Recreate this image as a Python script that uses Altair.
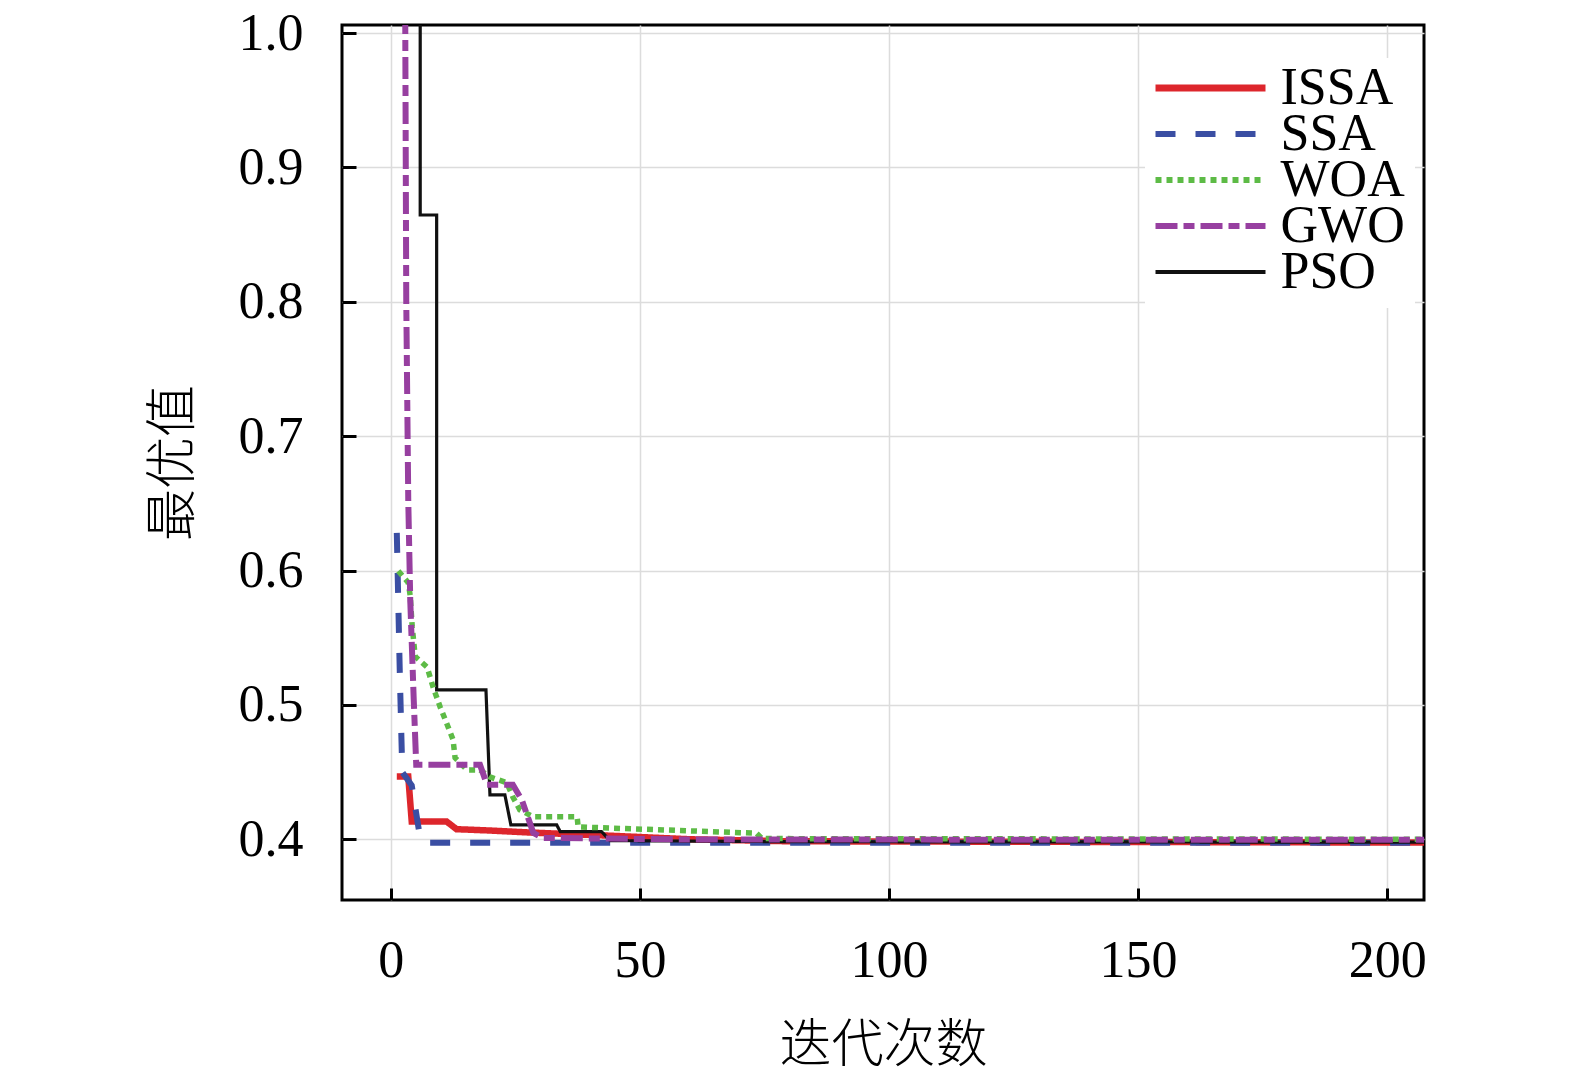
import altair as alt
import pandas as pd

series_names = ["ISSA", "SSA", "WOA", "GWO", "PSO"]
draw_order = ["ISSA", "SSA", "PSO", "WOA", "GWO"]

issa_iter = [1.2, 3.5, 4.2, 11.2, 13.2, 20, 28, 45, 60, 80, 210]
issa_val = [0.4467, 0.4467, 0.4132, 0.4132, 0.4075, 0.4065, 0.405, 0.4025, 0.400, 0.3985, 0.3975]

ssa_iter = [1.2, 1.8, 2.3, 4.2, 5.8, 7, 210]
ssa_val = [0.628, 0.524, 0.45, 0.44, 0.403, 0.3975, 0.3975]

woa_iter = [1.5, 3.5, 3.9, 4.3, 4.9, 7.3, 8.5, 9.9, 11.5, 12.5, 12.9, 15.3, 17.9,
            19.9, 23.3, 24.5, 25.9, 28.6, 37.4, 37.6, 73.4, 74.5, 210]
woa_val = [0.5997, 0.591, 0.581, 0.558, 0.536, 0.528, 0.513, 0.4985, 0.4836, 0.474,
           0.4606, 0.4516, 0.4516, 0.4464, 0.442, 0.4315, 0.4219, 0.4167, 0.4167,
           0.4092, 0.4045, 0.4005, 0.4]

gwo_iter = [1, 2.9, 3.1, 3.5, 3.9, 4.6, 5.1, 17.9, 19.3, 24.5, 26.3, 28.6, 30.5, 60, 210]
gwo_val = [1.25, 1.006, 0.8, 0.6525, 0.578, 0.504, 0.4555, 0.4555, 0.4406, 0.4406,
           0.4293, 0.4048, 0.401, 0.3998, 0.3996]

pso_iter = [1, 5.9, 5.9, 9.2, 9.2, 19.1, 19.9, 22.9, 24.1, 33.3, 34, 42.3, 44, 80, 210]
pso_val = [1.3, 1.3, 0.8646, 0.8646, 0.5112, 0.5112, 0.433, 0.433, 0.4107, 0.4107,
           0.4057, 0.4057, 0.399, 0.3982, 0.3978]

x_ticks = [0, 50, 100, 150, 200]
y_ticks = [0.4, 0.5, 0.6, 0.7, 0.8, 0.9, 1.0]

series_data = {
    "ISSA": (issa_iter, issa_val),
    "SSA": (ssa_iter, ssa_val),
    "WOA": (woa_iter, woa_val),
    "GWO": (gwo_iter, gwo_val),
    "PSO": (pso_iter, pso_val),
}

rows = []
for s in draw_order:
    its, vals = series_data[s]
    for i, (a, b) in enumerate(zip(its, vals)):
        rows.append({"series": s, "iter": a, "val": b, "idx": i})
df = pd.DataFrame(rows)

colors = ["#dd262c", "#3a4ea3", "#5dbb46", "#973fa0", "#111111"]
dashes = [[1, 0], [20, 20], [6, 5], [22, 6, 11, 6], [1, 0]]

FONT = "Liberation Serif, Times New Roman, Noto Sans CJK SC"

legend = alt.Legend(
    title=None,
    orient="none",
    legendX=803,
    legendY=33,
    fillColor="white",
    padding=10,
    symbolType="stroke",
    symbolSize=12100,
    symbolOffset=29.5,
    symbolStrokeWidth={"expr": "datum.value === 'ISSA' ? 7 : (datum.value === 'PSO' ? 4 : 6)"},
    clipHeight=40,
    rowPadding=-20,
    labelOffset=44,
    labelFont=FONT,
    labelFontSize=52,
    labelColor="black",
    labelBaseline="middle",
)

chart = alt.Chart(df).mark_line(clip=True, strokeCap="butt", strokeJoin="miter").encode(
    x=alt.X(
        "iter:Q",
        scale=alt.Scale(domain=[-9.8, 207.4], nice=False, zero=False),
        axis=alt.Axis(
            values=x_ticks, format="d", title="迭代次数",
            offset=-12, tickSize=12, tickWidth=3, tickColor="black",
            domain=False, labelPadding=35, titlePadding=34,
            grid=True, gridColor="#dcdcdc", gridWidth=1.5,
            labelFont=FONT, labelFontSize=52, labelColor="black",
            titleFont=FONT, titleFontSize=52, titleFontWeight=300, titleColor="black",
        ),
    ),
    y=alt.Y(
        "val:Q",
        scale=alt.Scale(domain=[0.3548, 1.006], nice=False, zero=False),
        axis=alt.Axis(
            values=y_ticks, format=".1f", title="最优值",
            offset=-14, tickSize=14, tickWidth=3, tickColor="black",
            domain=False, labelPadding=39, titlePadding=38,
            grid=True, gridColor="#dcdcdc", gridWidth=1.5,
            labelFont=FONT, labelFontSize=52, labelColor="black",
            titleFont=FONT, titleFontSize=52, titleFontWeight=300, titleColor="black",
        ),
    ),
    color=alt.Color("series:N", scale=alt.Scale(domain=series_names, range=colors), legend=legend),
    strokeDash=alt.StrokeDash("series:N", scale=alt.Scale(domain=series_names, range=dashes), legend=legend),
    strokeWidth=alt.value(6, condition=[
        {"test": "datum.series === 'ISSA'", "value": 6.5},
        {"test": "datum.series === 'PSO'", "value": 3.2},
        {"test": "datum.series === 'WOA'", "value": 5.5},
    ]),
    order=alt.Order("idx:Q"),
).properties(
    width=1082,
    height=875,
    padding={"left": 334, "top": 17, "right": 140, "bottom": 172},
    autosize="none",
    background="white",
).configure_view(
    stroke="black", strokeWidth=3
)

chart.save("out.html", embed_options={"renderer": "svg", "actions": False})
